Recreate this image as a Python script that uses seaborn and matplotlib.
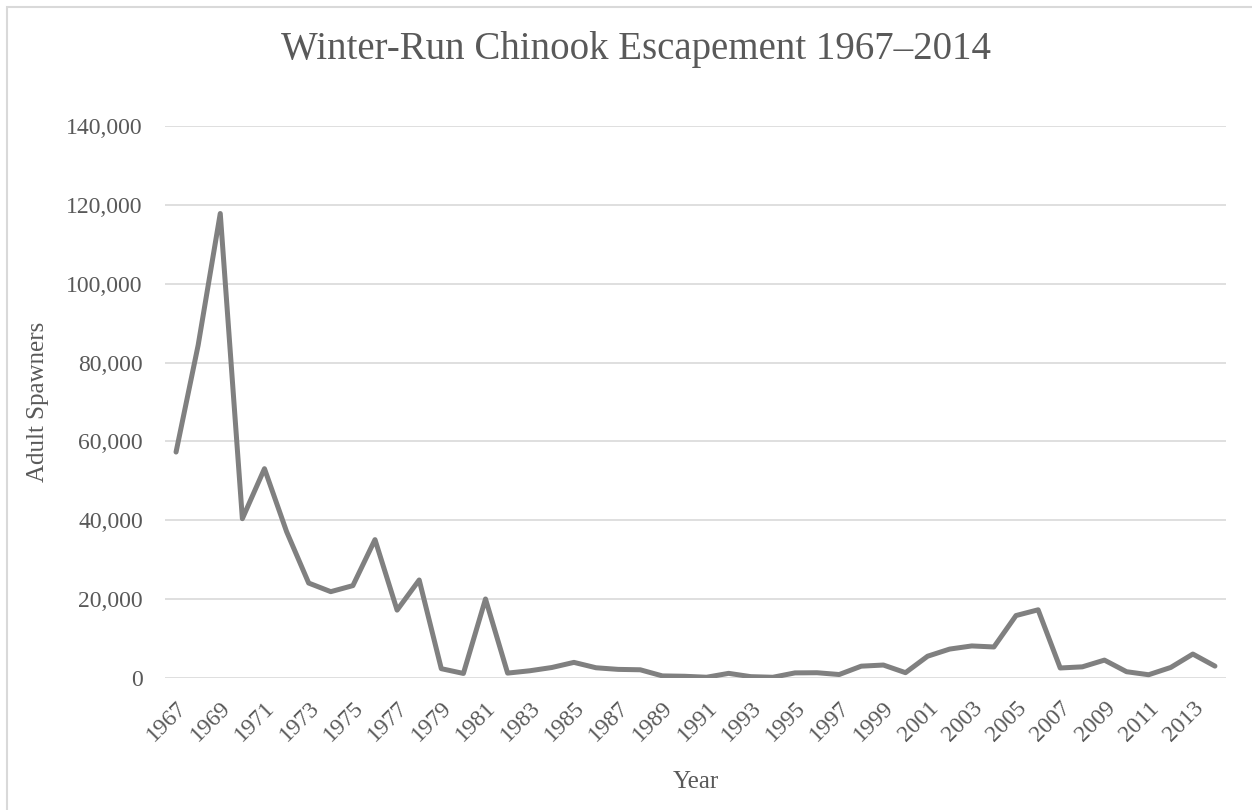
import matplotlib
matplotlib.use("Agg")
import matplotlib.pyplot as plt
import seaborn as sns
import pandas as pd
from matplotlib.patches import Rectangle
from matplotlib.ticker import FuncFormatter

years = list(range(1967, 2015))
spawners = [57306, 84414, 117808, 40409, 53089, 37133, 24079, 21897, 23430, 35096,
            17214, 24862, 2364, 1156, 20041, 1242, 1831, 2663, 3962, 2596,
            2186, 2085, 533, 441, 191, 1180, 341, 186, 1297, 1337,
            880, 3002, 3288, 1352, 5523, 7337, 8133, 7869, 15839, 17296,
            2541, 2830, 4537, 1596, 827, 2674, 6075, 3015]
tick_years = list(range(1967, 2014, 2))
title = "Winter-Run Chinook Escapement 1967\u20132014"

df = pd.DataFrame({"Year": years, "Adult Spawners": spawners})

sns.set_theme(style="white")
plt.rcParams['font.family'] = ['Liberation Serif', 'DejaVu Serif']
txt = "#595959"

fig = plt.figure(figsize=(12.52, 8.10), dpi=100)
ax = fig.add_axes([165/1252, 1-678/810, (1226-165)/1252, (678-126)/810])

sns.lineplot(data=df, x="Year", y="Adult Spawners", ax=ax, color="#808080", linewidth=3.6,
             solid_joinstyle="round", solid_capstyle="round")

ax.set_xlim(1966.5, 2014.5)
ax.set_ylim(0, 140000)
ax.set_yticks(range(0, 140001, 20000))
ax.yaxis.set_major_formatter(FuncFormatter(lambda v, p: f"{int(v):,}"))
ax.set_xticks(tick_years)
ax.set_xticklabels([str(y) for y in tick_years], rotation=45, ha="right", rotation_mode="anchor")
ax.grid(axis="y", color="#d9d9d9", linewidth=1.2)
ax.grid(axis="x", visible=False)
for s in ax.spines.values():
    s.set_visible(False)
ax.tick_params(axis="both", length=0, labelsize=17, colors=txt)
ax.tick_params(axis="y", pad=16)
ax.tick_params(axis="x", pad=14)
ax.set_axisbelow(True)

ax.set_xlabel("Year", fontsize=18, color=txt, labelpad=18)
ax.set_ylabel("Adult Spawners", fontsize=18, color=txt, labelpad=12)
fig.text(0.5 + 10/1252, 1-50/810, title, ha="center", va="center", fontsize=28, color=txt)

fig.patches.append(Rectangle((7/1252, -0.05), 1.1, 1-7/810+0.05, transform=fig.transFigure,
                             fill=False, edgecolor="#d9d9d9", linewidth=1.5))

fig.savefig("out.png", dpi=100)
